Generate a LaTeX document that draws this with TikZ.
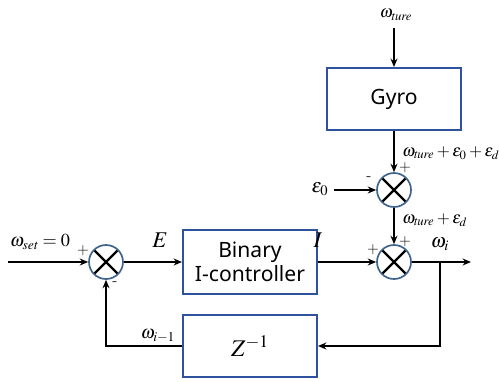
\documentclass[tikz,border=0pt]{standalone}
\usepackage{mathptmx}
\usepackage[no-math]{fontspec}
\newfontfamily\boxfont{Noto Sans}
\usepackage{xcolor}
\definecolor{boxblue}{RGB}{47,82,160}
\definecolor{sumgray}{RGB}{65,100,140}
\usepackage{tikz}
\usetikzlibrary{arrows.meta, positioning, calc}

\tikzset{
  blockbox/.style={draw=boxblue, line width=1.4pt, fill=white, minimum width=134*0.025cm, minimum height=62*0.025cm, font=\boxfont\fontsize{15}{17}\selectfont, align=center},
  sumnode/.style={circle, draw=sumgray, line width=1.2pt, minimum size=34*0.025cm, inner sep=0pt,
    path picture={\draw[black, line width=1.6pt] (path picture bounding box.south east) -- (path picture bounding box.north west)
      (path picture bounding box.south west) -- (path picture bounding box.north east);}},
  sig/.style={-{Stealth[length=6pt,width=5pt]}, line width=1.3pt},
  lbl/.style={font=\fontsize{14}{16}\selectfont, inner sep=0pt},
  sgn/.style={font=\fontsize{11}{12}\selectfont, inner sep=0pt}
}

\begin{document}
\begin{tikzpicture}[x=0.025cm, y=-0.025cm]
  \useasboundingbox (0,0) rectangle (499,381);

  % --- Blocks ---
  \node[blockbox] (gyro) at (394,99) {Gyro};
  \node[blockbox, minimum height=64*0.025cm] (ctrl) at (250,262) {Binary\\I-controller};
  \node[blockbox, font=\fontsize{17}{19}\selectfont] (zinv) at (250,346) {$Z^{-1}$};

  % --- Summing junctions ---
  \node[sumnode] (sumL) at (106,262) {};
  \node[sumnode] (sumA) at (394,190) {};
  \node[sumnode] (sumB) at (394,262) {};

  % --- Free ends ---
  \coordinate (in) at (8,262);
  \coordinate (out) at (471,262);
  \coordinate (tap) at (440,262);
  \node[lbl, font=\fontsize{12}{14}\selectfont] (wture) at (396,15) {$\omega_{\mathit{ture}}$};
  \coordinate (wtop) at (394,28);
  \node[lbl] (eps0) at (320,189) {$\varepsilon_0$};
  \coordinate (epsend) at (334,190);

  % --- Connectors ---
  \draw[sig] (wtop) -- (gyro.north);
  \draw[sig] (gyro.south) -- (sumA.north);
  \draw[sig] (epsend) -- (sumA.west);
  \draw[sig] (sumA.south) -- (sumB.north);
  \draw[sig] (in) -- (sumL.west);
  \draw[sig] (sumL.east) -- (ctrl.west);
  \draw[sig] (ctrl.east) -- (sumB.west);
  \draw[sig] (sumB.east) -- (out);
  \draw[sig] (tap) |- (zinv.east);
  \draw[sig] (zinv.west) -| (sumL.south);

  % --- Signal labels ---
  \node[lbl, font=\fontsize{13}{15}\selectfont] (wset) at (40,242) {$\omega_{\mathit{set}}=0$};
  \node[lbl, font=\fontsize{16}{18}\selectfont] (errE) at (160,240) {$E$};
  \node[lbl, font=\fontsize{16}{18}\selectfont] (outI) at (318,240) {$I$};
  \node[lbl] (wi) at (440,244) {$\omega_i$};
  \node[lbl, font=\fontsize{13}{15}\selectfont] (wprev) at (158,336) {$\omega_{i-1}$};
  \node[lbl, anchor=west, font=\fontsize{12}{14}\selectfont] (sumAlbl) at (402,153) {$\omega_{\mathit{ture}}+\varepsilon_0+\varepsilon_d$};
  \node[lbl, anchor=west, font=\fontsize{12}{14}\selectfont] (sumBlbl) at (402,220) {$\omega_{\mathit{ture}}+\varepsilon_d$};

  % --- Signs ---
  \node[sgn] (pL) at (83,251) {+};
  \node[sgn] (mL) at (115,284) {-};
  \node[sgn] (mA) at (369,179) {-};
  \node[sgn] (pA) at (405,168) {+};
  \node[sgn] (pB1) at (405,242) {+};
  \node[sgn] (pB2) at (373,250) {+};
\end{tikzpicture}
\end{document}
